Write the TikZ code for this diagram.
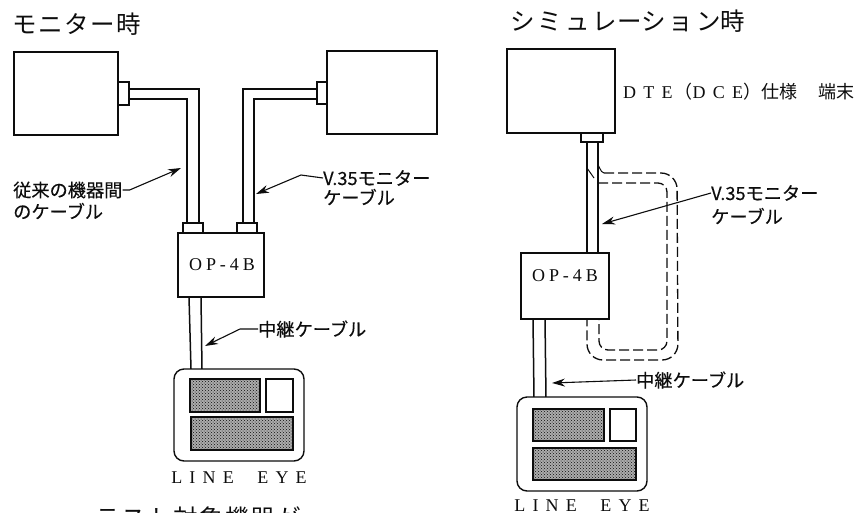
\documentclass[tikz,border=0pt]{standalone}
\usepackage{fontspec}
\usetikzlibrary{arrows.meta,patterns,calc}
\newfontfamily\jp{Noto Sans CJK JP}
\newfontfamily\jpl[FakeBold=0.25]{Noto Sans CJK JP}
\newfontfamily\jpw[LetterSpace=6]{Noto Sans CJK JP}
\newfontfamily\ser[LetterSpace=40]{Liberation Serif}
\newfontfamily\sert[LetterSpace=22]{Liberation Serif}
\newcommand{\rbox}[6][plainbox]{%
  \pgfmathsetmacro{\rw}{#5-#3}\pgfmathsetmacro{\rh}{#6-#4}%
  \pgfmathsetmacro{\rx}{(#3+#5)/2}\pgfmathsetmacro{\ry}{(#4+#6)/2}%
  \node[#1,minimum width=\rw pt,minimum height=\rh pt] (#2) at (\rx,\ry) {};}
\definecolor{ink}{gray}{0.05}
\tikzset{
  plainbox/.style={draw=ink,line width=1.4pt,fill=white,inner sep=0pt,outer sep=0pt},
  panelbox/.style={plainbox,rounded corners=10pt},
  hatchbox/.style={draw=ink,line width=1.5pt,inner sep=0pt,outer sep=0pt,preaction={fill=gray!65},pattern=crosshatch dots,pattern color=ink},
  cable/.style={draw=ink,line width=1.5pt},
  dashcable/.style={draw=ink,line width=1.3pt,dash pattern=on 10pt off 4pt,rounded corners=16pt},
  leader/.style={draw=ink,line width=1.1pt,-{Stealth[length=13pt,width=8pt]}},
  headtext/.style={font=\jpw\fontsize{24.5}{26}\selectfont,text=ink,inner sep=0pt,anchor=west},
  labtext/.style={font=\jpl\fontsize{18.2}{20}\selectfont,text=ink,inner sep=0pt,anchor=west},
  modeltext/.style={font=\ser\fontsize{18}{20}\selectfont,text=ink,inner sep=0pt},
}
\begin{document}
\begin{tikzpicture}[x=1pt,y=-1pt]
\clip (0,0) rectangle (859,512);
\fill[white] (0,0) rectangle (859,512);
% left scene
\node[headtext] (t1) at (12,24) {モニター時};
\coordinate (a1) at (129,89); \coordinate (a2) at (199,89); \coordinate (a3) at (199,223);
\coordinate (b1) at (129,99); \coordinate (b2) at (187,99); \coordinate (b3) at (187,223);
\coordinate (c1) at (317,89); \coordinate (c2) at (243,89); \coordinate (c3) at (243,223);
\coordinate (d1) at (317,99); \coordinate (d2) at (254,99); \coordinate (d3) at (254,223);
\coordinate (e1) at (189,297); \coordinate (e2) at (191,369);
\coordinate (f1) at (201,297); \coordinate (f2) at (202,369);
\draw[cable] (a1) -- (a2) -- (a3);
\draw[cable] (b1) -- (b2) -- (b3);
\draw[cable] (c1) -- (c2) -- (c3);
\draw[cable] (d1) -- (d2) -- (d3);
\draw[cable] (e1) -- (e2);
\draw[cable] (f1) -- (f2);
\rbox{lbox}{14}{52}{118}{135}
\rbox{lconn}{118}{82}{129}{105}
\rbox{rbox}{327}{51}{437}{134}
\rbox{rconn}{317}{82}{327}{104}
\rbox{op1}{178}{233}{264}{297}
\rbox{pa}{183}{223}{203}{233}
\rbox{pb}{237}{223}{257}{233}
\node[modeltext,font=\sert\fontsize{18}{20}\selectfont] (op1t) at (222,265) {OP-4B};
\rbox[panelbox]{le1}{174}{369}{304}{461}
\rbox[hatchbox]{h1}{190}{379}{260}{412}
\rbox{w1}{266}{379}{293}{412}
\rbox[hatchbox]{h2}{191}{417}{293}{450}
\node[modeltext] (len1) at (239,478) {LINE\ \ EYE};
\node[labtext] (l1) at (13,190) {従来の機器間};
\node[labtext] (l2) at (13,211) {のケーブル};
\coordinate (l1t) at (181,168);
\draw[leader] (l1.east) -- ++(7,0) -- (l1t);
\node[labtext] (l3) at (323,178) {V.35モニター};
\node[labtext] (l4) at (323,197) {ケーブル};
\coordinate (l3t) at (256,194);
\draw[leader] (l3.west) -- ++(-22,-3) -- (l3t);
\node[labtext] (l5) at (258,329) {中継ケーブル};
\coordinate (l5t) at (205,346);
\draw[leader] (l5.west) -- ++(-18,0) -- (l5t);
\node[headtext] (t3) at (95,518) {テスト対象機器が};
% right scene
\node[headtext,font=\jp\fontsize{24.5}{26}\selectfont] (t2) at (510,21) {シ\hspace{3pt}ミ\hspace{3pt}ュ\hspace{3pt}レーシ\hspace{3pt}ョ\hspace{3pt}ン時};
\coordinate (g1) at (587,142); \coordinate (g2) at (587,253);
\coordinate (k1) at (598,142); \coordinate (k2) at (598,253);
\coordinate (m1) at (533,319); \coordinate (m2) at (534,398);
\coordinate (n1) at (545,319); \coordinate (n2) at (546,398);
\draw[cable] (g1) -- (g2);
\draw[cable] (k1) -- (k2);
\draw[cable] (m1) -- (m2);
\draw[cable] (n1) -- (n2);
\coordinate (s1) at (598,166); \coordinate (s2) at (604,173);
\coordinate (s3) at (677,173); \coordinate (s4) at (678,360);
\coordinate (s5) at (587,360); \coordinate (s6) at (587,319);
\coordinate (u1) at (598,183); \coordinate (u2) at (667,183);
\coordinate (u3) at (667,350); \coordinate (u4) at (599,350); \coordinate (u5) at (599,319);
\coordinate (v1) at (587,168); \coordinate (v2) at (594,178);
\draw[cable,line width=1pt] (s1) to[out=90,in=180] (s2);
\draw[cable,line width=1pt] (v1) -- (v2);
\draw[dashcable] (s2) -- (s3) -- (s4) -- (s5) -- (s6);
\draw[dashcable,rounded corners=9pt] (u1) -- (u2) -- (u3) -- (u4) -- (u5);
\rbox{tbox}{507}{49}{615}{133}
\rbox{tconn}{581}{133}{603}{142}
\rbox{op2}{521}{253}{609}{319}
\node[modeltext,font=\sert\fontsize{18}{20}\selectfont] (op2t) at (565,276) {OP-4B};
\rbox[panelbox]{le2}{517}{397}{647}{491}
\rbox[hatchbox]{h3}{533}{409}{604}{441}
\rbox{w2}{610}{409}{636}{441}
\rbox[hatchbox]{h4}{533}{448}{636}{480}
\node[modeltext] (len2) at (582,506) {LINE\ \ EYE};
\node[modeltext,anchor=west,font=\ser\fontsize{18}{20}\selectfont] (dte) at (623,92) {DTE\hspace{2pt}{\jp （}DCE\hspace{1pt}{\jp ）仕様\hspace{21pt}端末}};
\node[labtext] (l6) at (711,193) {V.35モニター};
\node[labtext] (l7) at (711,216) {ケーブル};
\coordinate (l6t) at (602,224);
\draw[leader] (l6.west) -- (l6t);
\node[labtext] (l8) at (636,380) {中継ケーブル};
\coordinate (l8t) at (552,383);
\draw[leader] (l8.west) -- (l8t);
\end{tikzpicture}
\end{document}
